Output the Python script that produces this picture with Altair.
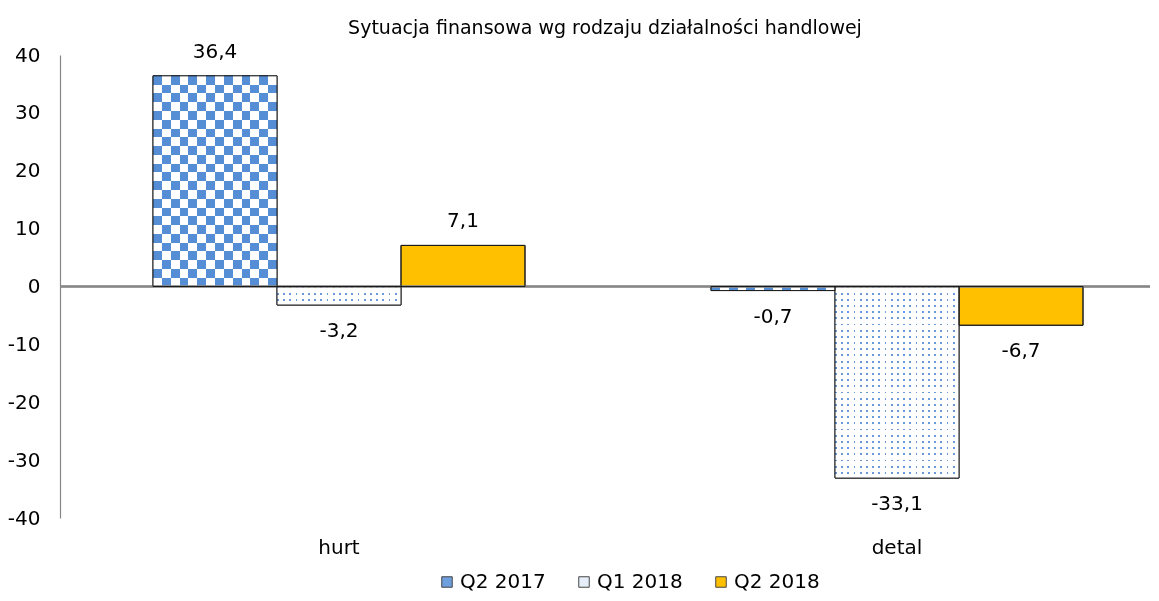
import altair as alt
import pandas as pd

categories = ["hurt", "detal"]
series = ["Q2 2017", "Q1 2018", "Q2 2018"]
q2_2017 = [36.4, -0.7]
q1_2018 = [-3.2, -33.1]
q2_2018 = [7.1, -6.7]
y_ticks = [-40, -30, -20, -10, 0, 10, 20, 30, 40]
title_text = "Sytuacja finansowa wg rodzaju działalności handlowej"

rows = []
for i, c in enumerate(categories):
    for s, vals in zip(series, [q2_2017, q1_2018, q2_2018]):
        rows.append({"category": c, "series": s, "value": vals[i]})
df = pd.DataFrame(rows)

FONT = "DejaVu Sans"
BLUE = "#558ED5"
DOT = "#6A9ADB"
GOLD = "#FFC000"


def stripes(n, duty, on, off, vertical):
    stops = []
    for i in range(n):
        a = i / n
        b = (i + duty) / n
        e = (i + 1) / n
        stops += [{"offset": a, "color": on}, {"offset": b, "color": on},
                  {"offset": b, "color": off}, {"offset": e, "color": off}]
    g = {"gradient": "linear", "stops": stops, "x1": 0, "y1": 0}
    if vertical:
        g.update({"x2": 1, "y2": 0})
    else:
        g.update({"x2": 0, "y2": 1})
    return g


def alternating(n, vertical):
    stops = []
    for i in range(n):
        col = "black" if i % 2 == 0 else "white"
        stops += [{"offset": i / n, "color": col}, {"offset": (i + 1) / n, "color": col}]
    g = {"gradient": "linear", "stops": stops, "x1": 0, "y1": 0}
    if vertical:
        g.update({"x2": 1, "y2": 0})
    else:
        g.update({"x2": 0, "y2": 1})
    return g


x_enc = alt.X("category:N", sort=categories,
              scale=alt.Scale(range=[0, 1116], paddingInner=0, paddingOuter=0),
              axis=alt.Axis(title=None, domain=False, ticks=False, labelAngle=0,
                            labelFontSize=20, labelFont=FONT, labelColor="black",
                            labelPadding=19))
xo_enc = alt.XOffset("series:N", sort=series,
                     scale=alt.Scale(paddingInner=0, paddingOuter=0.75))
y_enc = alt.Y("value:Q", scale=alt.Scale(domain=[-40, 40], nice=False),
              axis=alt.Axis(title=None, values=y_ticks, grid=False, ticks=False,
                            domainColor="#868686", domainWidth=1.2,
                            labelExpr="(datum.value < 0 ? '-' : '') + format(abs(datum.value), 'd')",
                            labelFontSize=20, labelFont=FONT, labelColor="black",
                            labelPadding=20))

base = alt.Chart(df).encode(x=x_enc, xOffset=xo_enc, y=y_enc)

layers = []
# base colored bars (legend)
layers.append(base.mark_bar(stroke="#222", strokeWidth=1).encode(
    color=alt.Color("series:N", sort=series,
                    scale=alt.Scale(domain=series, range=["#6F9FDD", "#E6EEF9", GOLD]),
                    legend=alt.Legend(title=None, orient="none", direction="horizontal",
                                      legendX=377, legendY=517,
                                      symbolType="square", symbolSize=110,
                                      symbolStrokeColor="#444", symbolStrokeWidth=1,
                                      labelFontSize=20, labelFont=FONT, labelColor="black",
                                      columnPadding=28, labelOffset=3))
))


def pick(cat, ser):
    return base.transform_filter((alt.datum.category == cat) & (alt.datum.series == ser))


# checkered Q2 2017
for cat, nc, nr in [("hurt", 14, 24), ("detal", 14, 1)]:
    p = pick(cat, "Q2 2017")
    layers.append(p.mark_bar(fill=alternating(nc, True)))
    layers.append(p.mark_bar(fill=alternating(nr, False), blend="difference"))
    layers.append(p.mark_bar(fill=BLUE, blend="screen"))

# dotted Q1 2018
for cat, nc, nr in [("hurt", 20, 3), ("detal", 20, 31)]:
    p = pick(cat, "Q1 2018")
    layers.append(p.mark_bar(fill=stripes(nc, 0.3, "black", "white", True)))
    layers.append(p.mark_bar(fill=stripes(nr, 0.3, "black", "white", False), blend="screen"))
    layers.append(p.mark_bar(fill=DOT, blend="screen"))

# zero line
layers.append(alt.Chart(df).mark_rule(color="#868686", strokeWidth=1.5).encode(y=alt.datum(0)))

# outlines
layers.append(base.mark_bar(fill="transparent", stroke="#1a1a1a", strokeWidth=1))

# labels
lab = base.transform_calculate(
    label="(datum.value < 0 ? '-' : '') + replace(format(abs(datum.value), '.1f'), '.', ',')")
layers.append(lab.transform_filter(alt.datum.value >= 0).mark_text(
    baseline="bottom", dy=-14, fontSize=20, font=FONT, color="black").encode(text="label:N"))
layers.append(lab.transform_filter(alt.datum.value < 0).mark_text(
    baseline="top", dy=16, fontSize=20, font=FONT, color="black").encode(text="label:N"))

chart = alt.layer(*layers).properties(
    width=1090, height=463,
    autosize=alt.AutoSizeParams(type="none"),
    title=alt.TitleParams(title_text, fontSize=19, font=FONT, fontWeight="normal",
                          color="black", offset=4, anchor="middle"),
    padding={"left": 52, "top": 47, "right": 1, "bottom": 75},
).configure_view(stroke=None)

chart.save("out.html", embed_options={"renderer": "svg", "actions": False})
